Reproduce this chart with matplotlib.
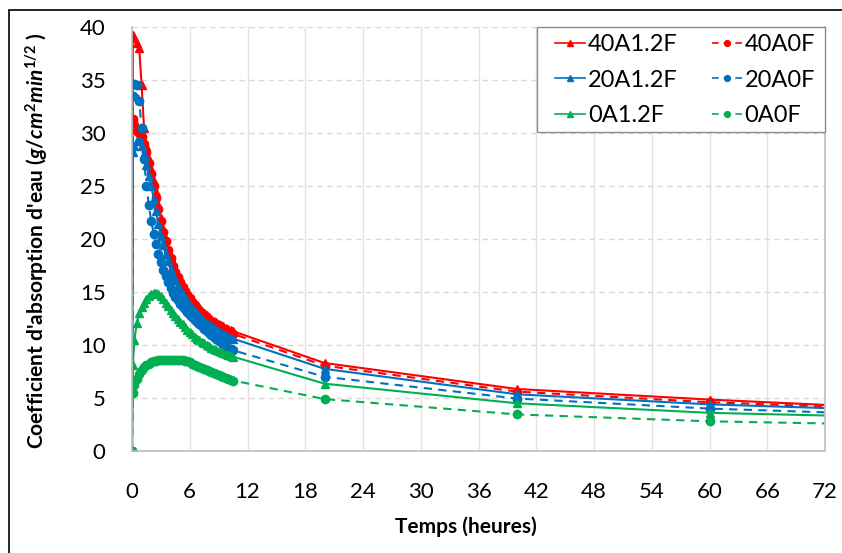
import numpy as np
import matplotlib
matplotlib.use("Agg")
import matplotlib.pyplot as plt
from matplotlib.patches import Rectangle

plt.rcParams['font.family'] = ['Lato', 'DejaVu Sans']
plt.rcParams['mathtext.fontset'] = 'custom'
plt.rcParams['mathtext.rm'] = 'Lato:bold'
plt.rcParams['mathtext.it'] = 'Lato:italic:bold'

# time (hours): dense readings up to 10.5 h, then 20, 40, 60, 72 h
t_dense = [0, 0.083, 0.25, 0.5, 0.75, 1.0, 1.25, 1.5, 1.75, 2.0, 2.25, 2.5, 2.75,
           3.0, 3.25, 3.5, 3.75, 4.0, 4.25, 4.5, 4.75, 5.0, 5.25, 5.5, 5.75,
           6.0, 6.25, 6.5, 6.75, 7.0, 7.25, 7.5, 7.75, 8.0, 8.25, 8.5, 8.75,
           9.0, 9.25, 9.5, 9.75, 10.0, 10.25, 10.5]
t_long = [20, 40, 60, 72]

s40A12F = [0, 39.2, 39.0, 38.5, 38.0, 34.5, 30.5, 28.8, 27.5, 26.6, 25.5, 24.4, 23.2,
           22.0, 20.9, 20.0, 19.1, 18.3, 17.7, 17.1, 16.6, 16.1, 15.7, 15.3, 14.9,
           14.6, 14.3, 14.0, 13.75, 13.5, 13.25, 13.0, 12.8, 12.6, 12.45, 12.3, 12.15,
           12.0, 11.9, 11.75, 11.65, 11.5, 11.4, 11.3,
           8.3, 5.85, 4.85, 4.35]
s40A0F = [0, 31.3, 30.8, 30.2, 30.0, 29.6, 29.0, 28.2, 27.2, 26.1, 25.0, 23.9, 22.8,
          21.7, 20.7, 19.8, 19.0, 18.2, 17.5, 16.9, 16.4, 15.9, 15.5, 15.1, 14.7,
          14.4, 14.1, 13.8, 13.5, 13.25, 13.0, 12.75, 12.55, 12.35, 12.2, 12.05, 11.9,
          11.75, 11.6, 11.5, 11.4, 11.25, 11.15, 11.05,
          8.05, 5.6, 4.6, 4.2]
s20A12F = [0, 28.2, 28.8, 29.2, 29.2, 28.8, 28.0, 27.0, 25.9, 25.0, 23.8, 22.6, 21.4,
           20.3, 19.4, 18.6, 17.9, 17.2, 16.6, 16.1, 15.6, 15.2, 14.8, 14.4, 14.1,
           13.8, 13.5, 13.2, 12.95, 12.7, 12.5, 12.3, 12.1, 11.9, 11.75, 11.6, 11.45,
           11.3, 11.15, 11.0, 10.9, 10.8, 10.7, 10.6,
           7.75, 5.35, 4.4, 4.05]
s20A0F = [0, 33.5, 34.6, 34.5, 33.0, 30.5, 27.5, 25.0, 23.2, 21.7, 20.5, 19.5, 18.6,
          17.8, 17.1, 16.5, 15.9, 15.4, 14.9, 14.5, 14.2, 13.9, 13.6, 13.35, 13.1,
          12.85, 12.6, 12.4, 12.15, 11.95, 11.75, 11.55, 11.35, 11.15, 10.95, 10.75, 10.6,
          10.4, 10.25, 10.05, 9.9, 9.75, 9.6, 9.5,
          7.0, 4.95, 4.0, 3.65]
s0A12F = [0, 8.1, 10.5, 12.1, 13.0, 13.6, 14.0, 14.35, 14.6, 14.8, 14.9, 14.9, 14.8,
          14.6, 14.3, 14.0, 13.65, 13.3, 13.0, 12.7, 12.45, 12.2, 11.95, 11.7, 11.45,
          11.2, 11.0, 10.8, 10.6, 10.45, 10.3, 10.15, 10.0, 9.9, 9.75, 9.65, 9.55,
          9.45, 9.35, 9.25, 9.15, 9.05, 9.0, 8.9,
          6.35, 4.5, 3.6, 3.35]
s0A0F = [0, 5.5, 6.2, 6.8, 7.3, 7.65, 7.9, 8.1, 8.25, 8.35, 8.45, 8.5, 8.55,
         8.6, 8.6, 8.6, 8.6, 8.6, 8.6, 8.6, 8.58, 8.57, 8.55, 8.5, 8.45,
         8.35, 8.25, 8.15, 8.05, 7.95, 7.85, 7.75, 7.65, 7.55, 7.45, 7.35, 7.25,
         7.15, 7.05, 6.95, 6.85, 6.8, 6.72, 6.65,
         4.9, 3.45, 2.8, 2.6]

t = t_dense + t_long
n = len(t)

red, blue, green = '#FF0000', '#0070C0', '#00B050'

W, H = 842, 553
L, R, T, B = 132, 825, 27, 451
fig = plt.figure(figsize=(W / 100, H / 100), dpi=100)
ax = fig.add_axes([L / W, 1 - B / H, (R - L) / W, (B - T) / H])

def ax_x(px):
    return (px - L) / (R - L)

def ax_y(py):
    return (B - py) / (B - T)

# outer frame (only top and left edges are visible in the crop)
fig.patches.append(Rectangle((9 / W, -1), 2, 2 - 10 / H, transform=fig.transFigure,
                             fill=False, edgecolor='black', lw=1.2))

mk = list(range(n - 1))
solid = dict(ls='-', lw=1.5, marker='^', ms=6, markevery=mk)
dashed = dict(ls=(0, (4, 3)), lw=1.5, marker='o', ms=6, markevery=mk)

h1, = ax.plot(t, s40A12F, color=red, label='40A1.2F', **solid)
h4, = ax.plot(t, s40A0F, color=red, label='40A0F', **dashed)
h2, = ax.plot(t, s20A12F, color=blue, label='20A1.2F', **solid)
h5, = ax.plot(t, s20A0F, color=blue, label='20A0F', **dashed)
h3, = ax.plot(t, s0A12F, color=green, label='0A1.2F', **solid)
h6, = ax.plot(t, s0A0F, color=green, label='0A0F', **dashed)

ax.set_xlim(0, 72)
ax.set_ylim(0, 40)
ax.set_xticks(np.arange(0, 73, 6))
ax.set_yticks(np.arange(0, 41, 5))
ax.tick_params(length=0, labelsize=16)
ax.tick_params(axis='y', pad=19)
ax.tick_params(axis='x', pad=22)

ax.grid(axis='y', color='#D9D9D9', ls=(0, (4, 3)), lw=1)
ax.grid(axis='x', color='#E3E3E3', ls='-', lw=1)
ax.set_axisbelow(True)
for s in ['left', 'bottom', 'right']:
    ax.spines[s].set_color('#BFBFBF')
    ax.spines[s].set_linewidth(1.2)
ax.spines['top'].set_visible(False)

ax.set_xlabel('Temps (heures)', fontsize=15, fontweight='bold')
ax.xaxis.set_label_coords(0.482, -0.155)
ax.set_ylabel(r"Coefficient d'absorption d'eau ($g/cm^2min^{1/2}$ )", fontsize=15,
              fontweight='bold')
ax.yaxis.set_label_coords(-0.118, 0.495)

# legend box drawn separately, content placed inside it
ax.add_patch(Rectangle((ax_x(537), ax_y(132)), ax_x(825) - ax_x(537), ax_y(27) - ax_y(132),
                       transform=ax.transAxes, facecolor='white', edgecolor='#8C8C8C',
                       lw=1, zorder=4.5, clip_on=False))
leg = ax.legend(handles=[h1, h2, h3, h4, h5, h6], ncol=2, loc='upper left',
                bbox_to_anchor=(ax_x(555), ax_y(34)), fontsize=17, frameon=False,
                borderaxespad=0, borderpad=0, handlelength=1.27, columnspacing=1.45,
                labelspacing=0.62, handletextpad=0.12, markerscale=0.7)
for line in leg.get_lines():
    line.set_linewidth(1.2)

fig.savefig('out.png', dpi=100)
